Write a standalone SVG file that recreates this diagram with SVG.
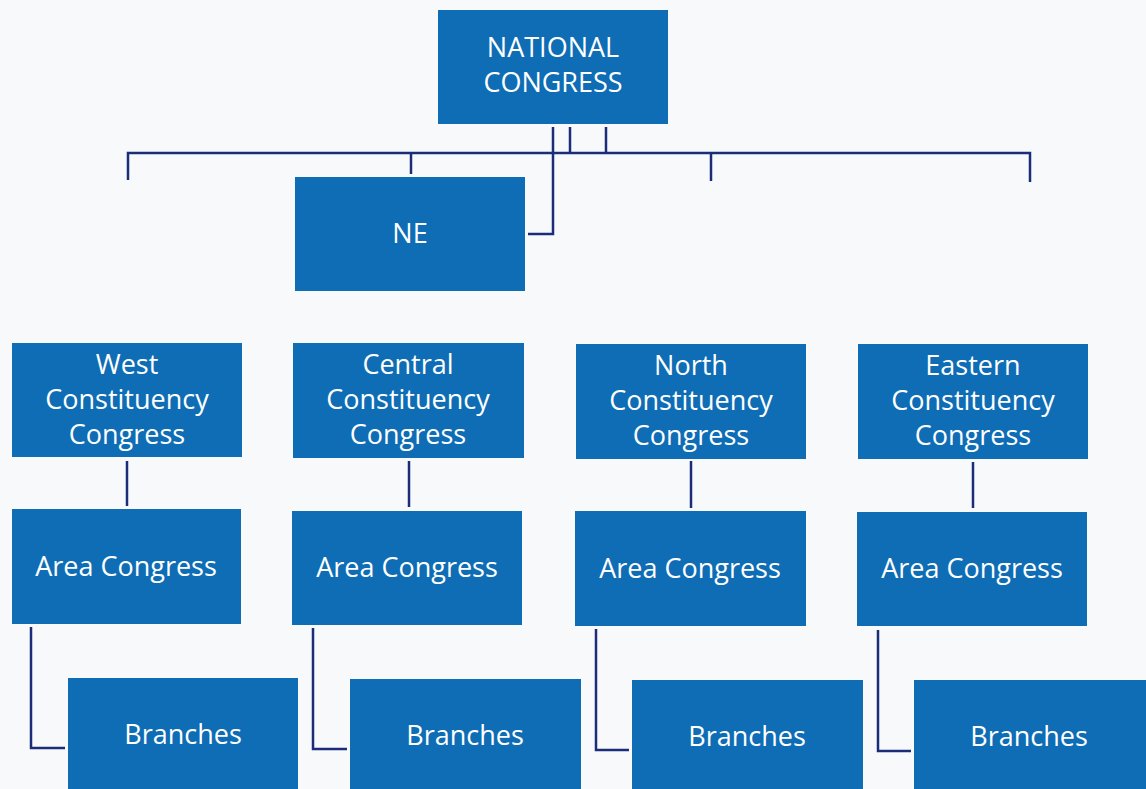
<svg xmlns="http://www.w3.org/2000/svg" width="1146" height="789" viewBox="0 0 1146 789">
<style>
.box{fill:#0e6db5;}
.t{font-family:"Open Sans","Noto Sans","Liberation Sans",sans-serif;font-size:27px;fill:#ffffff;text-anchor:middle;}
.c{fill:none;stroke:#1b2d78;stroke-width:2.5;}
</style>
<rect x="0" y="0" width="1146" height="789" fill="#f7f9fb"/>
<g id="connectors">
<path class="c" d="M553,127 V234 H528"/>
<path class="c" d="M570,127 V153"/>
<path class="c" d="M606,127 V153"/>
<path class="c" d="M128,180 V153 H1030 V182"/>
<path class="c" d="M411,153 V174"/>
<path class="c" d="M711,153 V181"/>
<path class="c" d="M127,461 V506"/>
<path class="c" d="M409,461 V507"/>
<path class="c" d="M691,461 V508"/>
<path class="c" d="M973,462 V508"/>
<path class="c" d="M31,627 V748 H65"/>
<path class="c" d="M313,628 V749 H347"/>
<path class="c" d="M596,629 V750 H629"/>
<path class="c" d="M878,630 V751 H911"/>
</g>
<g id="national">
<rect class="box" x="438" y="10" width="230" height="114"/>
<text class="t" x="553" y="57">NATIONAL</text>
<text class="t" x="553" y="92">CONGRESS</text>
</g>
<g id="ne">
<rect class="box" x="295" y="177" width="230" height="114"/>
<text class="t" x="410" y="243">NE</text>
</g>
<g id="west">
<rect class="box" x="12" y="343" width="230" height="114"/>
<text class="t" x="127" y="374">West</text>
<text class="t" x="127" y="409">Constituency</text>
<text class="t" x="127" y="444">Congress</text>
</g>
<g id="central">
<rect class="box" x="293" y="343" width="231" height="115"/>
<text class="t" x="408" y="374">Central</text>
<text class="t" x="408" y="409">Constituency</text>
<text class="t" x="408" y="444">Congress</text>
</g>
<g id="north">
<rect class="box" x="576" y="344" width="230" height="115"/>
<text class="t" x="691" y="375">North</text>
<text class="t" x="691" y="410">Constituency</text>
<text class="t" x="691" y="445">Congress</text>
</g>
<g id="eastern">
<rect class="box" x="858" y="344" width="230" height="115"/>
<text class="t" x="973" y="375">Eastern</text>
<text class="t" x="973" y="410">Constituency</text>
<text class="t" x="973" y="445">Congress</text>
</g>
<g id="area-west">
<rect class="box" x="12" y="509" width="229" height="115"/>
<text class="t" x="126" y="576">Area Congress</text>
</g>
<g id="area-central">
<rect class="box" x="292" y="511" width="230" height="114"/>
<text class="t" x="407" y="577">Area Congress</text>
</g>
<g id="area-north">
<rect class="box" x="575" y="511" width="231" height="115"/>
<text class="t" x="690" y="578">Area Congress</text>
</g>
<g id="area-eastern">
<rect class="box" x="857" y="512" width="230" height="114"/>
<text class="t" x="972" y="578">Area Congress</text>
</g>
<g id="branches-west">
<rect class="box" x="68" y="678" width="230" height="115"/>
<text class="t" x="183" y="744">Branches</text>
</g>
<g id="branches-central">
<rect class="box" x="350" y="679" width="231" height="115"/>
<text class="t" x="465" y="745">Branches</text>
</g>
<g id="branches-north">
<rect class="box" x="632" y="680" width="231" height="115"/>
<text class="t" x="747" y="746">Branches</text>
</g>
<g id="branches-eastern">
<rect class="box" x="914" y="680" width="236" height="115"/>
<text class="t" x="1029" y="746">Branches</text>
</g>
</svg>
